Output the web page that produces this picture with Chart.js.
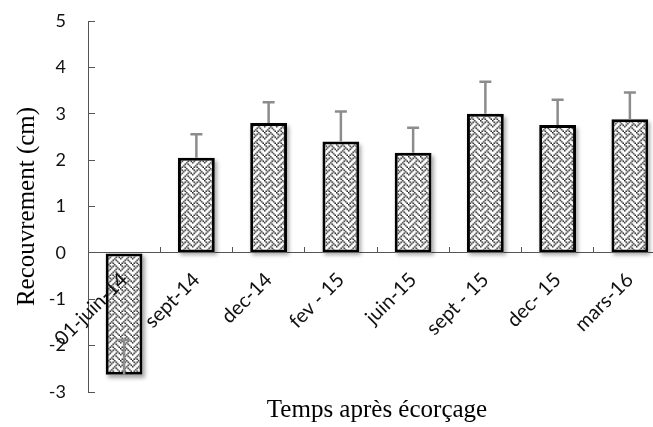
<!DOCTYPE html>
<html>
<head>
    <title>Recouvrement</title>
    <meta charset="UTF-8">
    <script src="https://cdn.jsdelivr.net/npm/chart.js@4.4.1/dist/chart.umd.min.js"></script>
    <style>
        html, body { margin: 0; padding: 0; overflow: hidden; background: #fff; }
        #wrap { width: 670px; height: 427px; }
    </style>
</head>
<body>
    <div id="wrap"><canvas id="myChart"></canvas></div>

    <script>
        var labels = ['01-juin-14', 'sept-14', 'dec-14', 'fev - 15', 'juin-15', 'sept - 15', 'dec- 15', 'mars-16'];
        var values = [-2.63, 2.05, 2.80, 2.40, 2.16, 3.00, 2.76, 2.88];
        var errors = [0.75, 0.51, 0.45, 0.65, 0.54, 0.69, 0.54, 0.58];
        var yTicks = [-3, -2, -1, 0, 1, 2, 3, 4, 5];

        // weave fill, like the excel pattern (8x8 bits, drawn a bit larger)
        function makePattern() {
            var bits = [0x88, 0x54, 0x22, 0x45, 0x88, 0x14, 0x22, 0x51];
            var src = document.createElement('canvas');
            src.width = 8; src.height = 8;
            var s = src.getContext('2d');
            s.fillStyle = '#fff';
            s.fillRect(0, 0, 8, 8);
            s.fillStyle = '#222';
            for (var y = 0; y < 8; y++) {
                for (var x = 0; x < 8; x++) {
                    if (bits[y] & (0x80 >> x)) s.fillRect(x, y, 1, 1);
                }
            }
            var tile = document.createElement('canvas');
            tile.width = 12; tile.height = 12;
            var t = tile.getContext('2d');
            t.imageSmoothingEnabled = true;
            t.drawImage(src, 0, 0, 12, 12);
            return t.createPattern(tile, 'repeat');
        }

        var errorBars = {
            id: 'errorBars',
            afterDatasetsDraw: function (chart) {
                var ctx = chart.ctx, y = chart.scales.y;
                var meta = chart.getDatasetMeta(0);
                ctx.save();
                ctx.strokeStyle = '#8c8c8c';
                ctx.lineWidth = 2.5;
                meta.data.forEach(function (bar, i) {
                    var v = values[i];
                    var y0 = y.getPixelForValue(v), y1 = y.getPixelForValue(v + errors[i]);
                    ctx.beginPath();
                    ctx.moveTo(bar.x, y0);
                    ctx.lineTo(bar.x, y1);
                    ctx.moveTo(bar.x - 6, y1);
                    ctx.lineTo(bar.x + 6, y1);
                    ctx.stroke();
                });
                ctx.restore();
            }
        };

        var shadows = {
            id: 'shadows',
            beforeDatasetsDraw: function (chart) {
                var ctx = chart.ctx;
                ctx.save();
                ctx.shadowColor = 'rgba(0,0,0,0.35)';
                ctx.shadowBlur = 4;
                ctx.shadowOffsetX = 2;
                ctx.shadowOffsetY = 3;
                ctx.fillStyle = '#fff';
                chart.getDatasetMeta(0).data.forEach(function (bar) {
                    var top = Math.min(bar.y, bar.base), h = Math.abs(bar.base - bar.y);
                    ctx.fillRect(bar.x - bar.width / 2, top, bar.width, h);
                });
                ctx.restore();
            }
        };

        function noPadding(scale) {
            scale.paddingTop = 0;
            scale.paddingBottom = 0;
            scale.paddingLeft = 0;
            scale.paddingRight = 0;
        }

        var ctx = document.getElementById('myChart');
        var myChart = new Chart(ctx, {
            type: 'bar',
            data: {
                labels: labels,
                datasets: [{
                    data: values,
                    backgroundColor: makePattern(),
                    borderColor: '#000',
                    borderWidth: 3,
                    borderSkipped: false,
                    barPercentage: 0.51,
                    categoryPercentage: 1
                }]
            },
            plugins: [shadows, errorBars],
            options: {
                responsive: true,
                maintainAspectRatio: false,
                animation: false,
                layout: { padding: { top: 21, right: 4, left: 0, bottom: 0 } },
                plugins: { legend: { display: false }, tooltip: { enabled: false } },
                scales: {
                    x: {
                        position: { y: 0 },
                        grid: { drawOnChartArea: false, tickLength: -6, color: '#555', offset: true },
                        border: { color: '#555', width: 1 },
                        ticks: {
                            z: 1,
                            color: '#111',
                            font: { family: 'Lato', size: 20 },
                            minRotation: 45, maxRotation: 45,
                            padding: 21
                        },
                        afterFit: noPadding
                    },
                    x2: {
                        type: 'category',
                        labels: labels,
                        position: 'bottom',
                        grid: { display: false },
                        border: { display: false },
                        ticks: { display: false },
                        title: {
                            display: true,
                            text: 'Temps après écorçage',
                            color: '#000',
                            font: { family: 'Liberation Serif', size: 25 },
                            padding: { top: 0, bottom: 2 }
                        },
                        afterFit: function (scale) { noPadding(scale); scale.height = 35; }
                    },
                    y: {
                        min: -3, max: 5,
                        afterBuildTicks: function (scale) {
                            scale.ticks = yTicks.map(function (v) { return { value: v }; });
                        },
                        grid: { drawOnChartArea: false, tickLength: -7, color: '#555' },
                        border: { color: '#555', width: 1 },
                        ticks: {
                            color: '#111',
                            font: { family: 'Lato', size: 18 },
                            padding: 29
                        },
                        title: {
                            display: true,
                            text: 'Recouvrement (cm)',
                            color: '#000',
                            font: { family: 'Liberation Serif', size: 25 },
                            padding: { top: 12, bottom: 0 }
                        },
                        afterFit: function (scale) { noPadding(scale); scale.width = 88; }
                    }
                }
            }
        });
    </script>
</body>
</html>
